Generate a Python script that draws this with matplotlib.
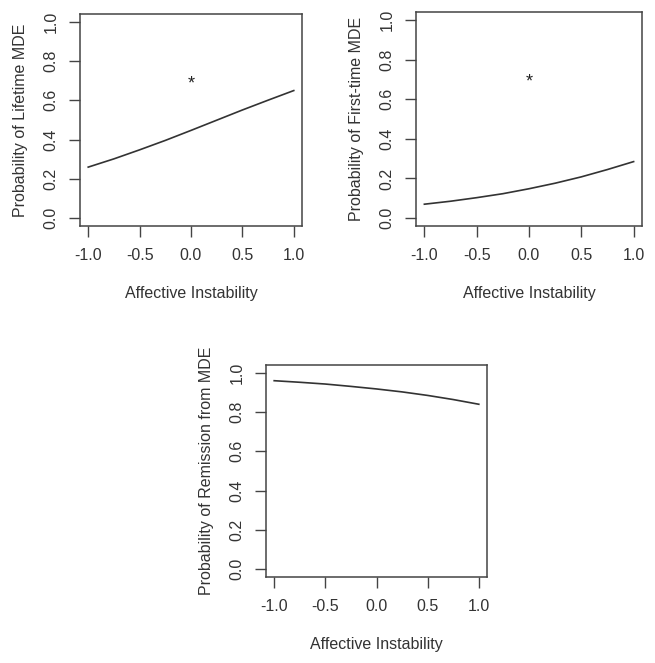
import matplotlib
matplotlib.use("Agg")
import matplotlib.pyplot as plt

plt.rcParams["font.family"] = ["Liberation Sans", "DejaVu Sans"]

# values
x = [-1.0, -0.75, -0.5, -0.25, 0.0, 0.25, 0.5, 0.75, 1.0]
lifetime = [0.26, 0.302, 0.348, 0.396, 0.447, 0.499, 0.551, 0.601, 0.65]
first_time = [0.070, 0.085, 0.103, 0.123, 0.148, 0.176, 0.208, 0.245, 0.285]
remission = [0.960, 0.952, 0.943, 0.931, 0.918, 0.903, 0.885, 0.864, 0.840]

star_x = [0.0]
star_y = [0.7]

xticks = [-1.0, -0.5, 0.0, 0.5, 1.0]
yticks = [0.0, 0.2, 0.4, 0.6, 0.8, 1.0]

fig = plt.figure(figsize=(6.55, 6.63), dpi=100)

panels = [
    ([80 / 655, 1 - 226 / 663, 222 / 655, 212 / 663], lifetime, "Probability of Lifetime MDE", True),
    ([416 / 655, 1 - 226 / 663, 226 / 655, 214 / 663], first_time, "Probability of First-time MDE", True),
    ([266 / 655, 1 - 577 / 663, 221 / 655, 212 / 663], remission, "Probability of Remission from MDE", False),
]

for rect, y, ylab, star in panels:
    ax = fig.add_axes(rect)
    ax.plot(x, y, color="#333333", lw=1.2)
    if star:
        for sx, sy in zip(star_x, star_y):
            ax.annotate("*", (sx, sy), xytext=(0, -2), textcoords="offset points",
                        ha="center", va="center", fontsize=13, color="#222222")
    ax.set_xlim(-1.08, 1.08)
    ax.set_ylim(-0.04, 1.04)
    ax.set_xticks(xticks)
    ax.set_xticklabels(["%.1f" % v for v in xticks])
    ax.set_yticks(yticks)
    ax.set_yticklabels(["%.1f" % v for v in yticks], rotation=90, va="center")
    ax.tick_params(direction="out", length=8, width=1, colors="#444444",
                   labelcolor="#333333", labelsize=11.5, pad=7.5)
    for s in ax.spines.values():
        s.set_color("#444444")
        s.set_linewidth(1.1)
    ax.set_xlabel("Affective Instability", fontsize=11.5, color="#333333", labelpad=17)
    ax.set_ylabel(ylab, fontsize=11.5, color="#333333", labelpad=11)

fig.savefig("out.png", dpi=100)
